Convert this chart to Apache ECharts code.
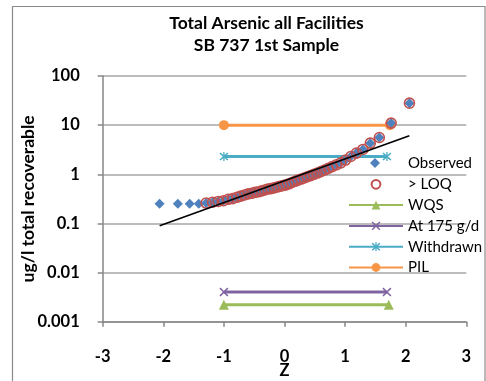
<!DOCTYPE html>
<html>
<head>
<meta charset="utf-8">
<script src="https://cdn.jsdelivr.net/npm/echarts@6/dist/echarts.min.js"></script>
<style>
  html, body { margin: 0; padding: 0; background: #ffffff; }
  #chart { width: 486px; height: 381px; }
</style>
</head>
<body>
<div id="chart"></div>
<script>
// Normal scores (plotting positions i/(n+1), n = 50) for the ranked samples
const zScores = [
  -2.062, -1.760, -1.565, -1.415, -1.293, -1.187, -1.093, -1.007, -0.929, -0.856,
  -0.787, -0.722, -0.659, -0.599, -0.541, -0.485, -0.431, -0.377, -0.325, -0.274,
  -0.223, -0.172, -0.123, -0.074, -0.025,  0.025,  0.074,  0.123,  0.172,  0.223,
   0.274,  0.325,  0.377,  0.431,  0.485,  0.541,  0.599,  0.659,  0.722,  0.787,
   0.856,  0.929,  1.007,  1.093,  1.187,  1.293,  1.415,  1.565,  1.760,  2.062
];
// Total arsenic, ug/l, ranked (first four reported at the LOQ)
const observed = [
  0.25, 0.25, 0.25, 0.25, 0.26, 0.27, 0.28, 0.29, 0.31, 0.32,
  0.34, 0.36, 0.38, 0.40, 0.41, 0.43, 0.44, 0.46, 0.48, 0.50,
  0.51, 0.53, 0.55, 0.57, 0.59, 0.61, 0.64, 0.68, 0.72, 0.76,
  0.80, 0.84, 0.89, 0.94, 1.00, 1.06, 1.13, 1.22, 1.32, 1.43,
  1.56, 1.71, 1.95, 2.30, 2.70, 3.20, 4.30, 5.60, 11.0, 28.0
];
// Samples above the limit of quantification (null = below LOQ)
const aboveLoq = [
  null, null, null, null, 0.26, 0.27, 0.28, 0.29, 0.31, 0.32,
  0.34, 0.36, 0.38, 0.40, 0.41, 0.43, 0.44, 0.46, 0.48, 0.50,
  0.51, 0.53, 0.55, 0.57, 0.59, 0.61, 0.64, 0.68, 0.72, 0.76,
  0.80, 0.84, 0.89, 0.94, 1.00, 1.06, 1.13, 1.22, 1.32, 1.43,
  1.56, 1.71, 1.95, 2.30, 2.70, 3.20, 4.30, 5.60, 11.0, 28.0
];
// Reference levels, ug/l, each drawn between a start and end Z
const wqsLevel = 0.0022,    wqsZ = [-1, 1.72];
const at175Level = 0.004,   at175Z = [-1, 1.69];
const withdrawnLevel = 2.3, withdrawnZ = [-1, 1.69];
const pilLevel = 10,        pilZ = [-1, 1.74];
// Log-normal fit line endpoints
const fitZ = [-2.06, 2.06];
const fitY = [0.09, 6.1];

const xTicks = ['-3', '-2', '-1', '0', '1', '2', '3'];
const yTicks = ['0.001', '0.01', '0.1', '1', '10', '100'];

const FONT = 'Lato';
const AXIS_GRAY = '#868686';
const BLUE = '#4F81BD';

const xSymbol = 'path://M1.2,0 L5,3.8 L8.8,0 L10,1.2 L6.2,5 L10,8.8 L8.8,10 L5,6.2 L1.2,10 L0,8.8 L3.8,5 L0,1.2 Z';
const starSymbol = 'path://M1.2,0 L5,3.8 L8.8,0 L10,1.2 L6.2,5 L10,8.8 L8.8,10 L5,6.2 L1.2,10 L0,8.8 L3.8,5 L0,1.2 Z M4.3,-0.5 L5.7,-0.5 L5.7,10.5 L4.3,10.5 Z';

function levelLine(name, level, zs, color, symbol, size) {
  return {
    name: name,
    type: 'line',
    data: [[zs[0], level], [zs[1], level]],
    symbol: symbol,
    symbolSize: size,
    showSymbol: true,
    lineStyle: { color: color, width: 3 },
    itemStyle: { color: color },
    z: 2
  };
}

// Marker-only series (no connecting line)
function markerSeries(name, values, symbol, itemStyle, z) {
  return {
    name: name,
    type: 'line',
    data: zScores.map(function (zv, i) { return values[i] == null ? [zv, '-'] : [zv, values[i]]; }),
    symbol: symbol,
    symbolSize: 10,
    showSymbol: true,
    showAllSymbol: true,
    connectNulls: false,
    lineStyle: { width: 0, opacity: 0 },
    itemStyle: itemStyle,
    z: z
  };
}

const chart = echarts.init(document.getElementById('chart'), null, { renderer: 'canvas' });

chart.setOption({
  animation: false,
  backgroundColor: '#ffffff',
  textStyle: { fontFamily: FONT },
  grid: { left: 102.7, right: 19.7, top: 76, bottom: 59.3, containLabel: false, outerBoundsMode: 'none' },
  graphic: [
    {
      type: 'rect',
      shape: { x: 12.5, y: 6.5, width: 472.5, height: 400 },
      style: { fill: 'none', stroke: '#8a8a8a', lineWidth: 1.2 },
      silent: true, z: -1
    },
    {
      type: 'text', x: 266.5, y: 23,
      style: { text: 'Total Arsenic all Facilities', font: 'bold 17.5px ' + FONT, fill: '#000', textAlign: 'center', textVerticalAlign: 'middle' }
    },
    {
      type: 'text', x: 266.5, y: 45,
      style: { text: 'SB 737 1st Sample', font: 'bold 17.5px ' + FONT, fill: '#000', textAlign: 'center', textVerticalAlign: 'middle' }
    },
    // legend key glyph for the Observed entry
    {
      type: 'polygon',
      shape: { points: [[375, 158], [380, 163], [375, 168], [370, 163]] },
      style: { fill: BLUE },
      silent: true, z: 10
    }
  ],
  legend: {
    orient: 'vertical',
    left: 348,
    top: 156,
    padding: 0,
    itemWidth: 54,
    itemHeight: 11,
    itemGap: 5.8,
    textStyle: { fontFamily: FONT, fontSize: 15, color: '#000', lineHeight: 15 },
    data: [
      { name: 'Observed', itemStyle: { opacity: 0 } },
      '> LOQ', 'WQS', 'At 175 g/d', 'Withdrawn', 'PIL'
    ]
  },
  xAxis: {
    type: 'value',
    min: -3, max: 3, interval: 1,
    name: 'Z',
    nameLocation: 'middle',
    nameGap: 40.5,
    nameMoveOverlap: false,
    nameTextStyle: { fontFamily: FONT, fontWeight: 'bold', fontSize: 16.5, color: '#000' },
    axisLine: { show: true, onZero: false, lineStyle: { color: AXIS_GRAY, width: 1.5 } },
    axisTick: { show: true, inside: false, length: 5, lineStyle: { color: AXIS_GRAY, width: 1.5 } },
    splitLine: { show: false },
    axisLabel: {
      margin: 26, fontFamily: FONT, fontWeight: 'bold', fontSize: 16.5, color: '#000',
      formatter: function (v) { return xTicks[Math.round(v) + 3]; }
    }
  },
  yAxis: {
    type: 'log',
    logBase: 10,
    min: 0.001, max: 100,
    name: 'ug/l total recoverable',
    nameLocation: 'middle',
    nameGap: 65,
    nameMoveOverlap: false,
    nameRotate: 90,
    nameTextStyle: { fontFamily: FONT, fontWeight: 'bold', fontSize: 17.5, color: '#000' },
    axisLine: { show: true, onZero: false, lineStyle: { color: AXIS_GRAY, width: 1.5 } },
    axisTick: { show: true, inside: false, length: 5, lineStyle: { color: AXIS_GRAY, width: 1.5 } },
    splitLine: { show: true, lineStyle: { color: '#a6a6a6', width: 1.5 } },
    minorTick: { show: false },
    axisLabel: {
      margin: 23, fontFamily: FONT, fontWeight: 'bold', fontSize: 16.5, color: '#000',
      formatter: function (v) { return yTicks[Math.round(Math.log10(v)) + 3]; }
    }
  },
  series: [
    levelLine('WQS', wqsLevel, wqsZ, '#9BBB59', 'triangle', 10),
    levelLine('At 175 g/d', at175Level, at175Z, '#8064A2', xSymbol, 9),
    levelLine('Withdrawn', withdrawnLevel, withdrawnZ, '#4BACC6', starSymbol, 9),
    levelLine('PIL', pilLevel, pilZ, '#F79646', 'circle', 10),
    markerSeries('Observed', observed, 'diamond', { color: BLUE }, 3),
    markerSeries('> LOQ', aboveLoq, 'circle',
      { color: 'rgba(255,255,255,0)', borderColor: '#C0504D', borderWidth: 1.6 }, 4),
    {
      name: 'fit',
      type: 'line',
      data: fitZ.map(function (z, i) { return [z, fitY[i]]; }),
      symbol: 'none',
      lineStyle: { color: '#000', width: 1.6 },
      z: 5
    }
  ]
});
</script>
</body>
</html>
